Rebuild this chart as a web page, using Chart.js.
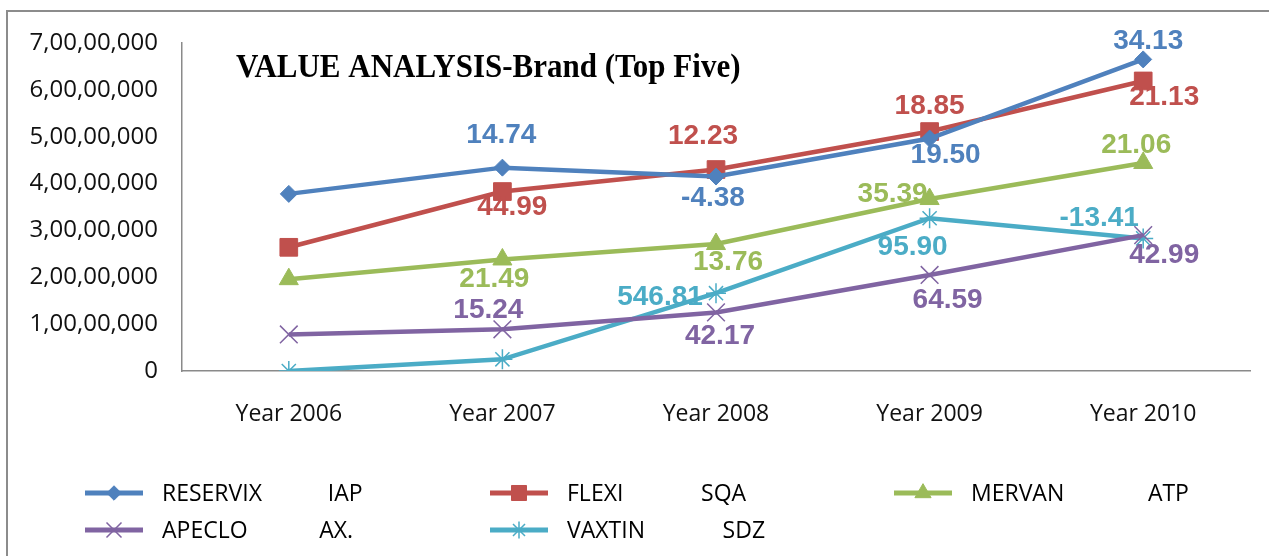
<!DOCTYPE html>
<html>
<head>
<meta charset="utf-8">
<script src="https://cdn.jsdelivr.net/npm/chart.js@4.4.0/dist/chart.umd.min.js"></script>
<style>
  html, body { margin: 0; padding: 0; background: #fff; }
  #wrap { position: relative; width: 1269px; height: 556px; overflow: hidden; }
  #frame { position: absolute; left: 6px; top: 10px; width: 1280px; height: 600px; border: 2px solid #8c8c8c; }
  canvas { position: absolute; left: 0; top: 0; }
</style>
</head>
<body>
<div id="wrap">
  <div id="frame"></div>
  <canvas id="valueChart" width="1269" height="556"></canvas>
</div>
<script>
// categories
const years = ['Year 2006', 'Year 2007', 'Year 2008', 'Year 2009', 'Year 2010'];

// legend labels (brand + company, spaced like the original)
const seriesLabels = [
    'RESERVIX           IAP',
    'FLEXI             SQA',
    'MERVAN              ATP',
    'APECLO            AX.',
    'VAXTIN             SDZ'
];

// sales value per year
const reservix = [37800000, 43400000, 41500000, 49600000, 66500000];
const flexi    = [26400000, 38300000, 43000000, 51100000, 61900000];
const mervan   = [19600000, 23800000, 27100000, 36700000, 44400000];
const apeclo   = [7800000, 8900000, 12500000, 20500000, 29000000];
const vaxtin   = [0, 2500000, 16600000, 32600000, 28300000];

// growth % shown next to the points
const reservixGrowth = [null, 14.74, -4.38, 19.50, 34.13];
const flexiGrowth    = [null, 44.99, 12.23, 18.85, 21.13];
const mervanGrowth   = [null, 21.49, 13.76, 35.39, 21.06];
const apecloGrowth   = [null, 15.24, 42.17, 64.59, 42.99];
const vaxtinGrowth   = [null, null, 546.81, 95.90, -13.41];

// y axis ticks
const yTicks = [0, 10000000, 20000000, 30000000, 40000000, 50000000, 60000000, 70000000];

const chartTitle = 'VALUE ANALYSIS-Brand (Top Five)';

// where each growth label sits relative to its point (px)
const labelOffsets = [
    [null, [-1, -32], [-3, 22], [16, 17], [5, -18]],
    [null, [10, 16], [-13, -33], [0, -25], [21, 16]],
    [null, [-8, 20], [12, 18], [-37, -5], [-7, -18]],
    [null, [-14, -19], [4, 24], [18, 25], [21, 20]],
    [null, null, [-56, 4], [-17, 29], [-44, -20]]
];

const legendCols = [85, 490, 894];
const legendRows = [493, 530];

// Indian grouping: 7,00,00,000
function inr(v) {
    const s = String(Math.round(v));
    if (s.length <= 3) return s;
    const last3 = s.slice(-3);
    const rest = s.slice(0, -3).replace(/\B(?=(\d{2})+(?!\d))/g, ',');
    return rest + ',' + last3;
}

function series(label, data, growth, color, style, radius, bw) {
    return {
        label: label,
        data: data,
        growth: growth,
        borderColor: color,
        backgroundColor: color,
        borderWidth: 4.5,
        tension: 0,
        pointStyle: style,
        pointRadius: radius,
        pointHoverRadius: radius,
        pointBorderWidth: bw,
        pointBackgroundColor: color,
        pointBorderColor: color
    };
}

const growthLabels = {
    id: 'growthLabels',
    afterDatasetsDraw(chart) {
        const ctx = chart.ctx;
        ctx.save();
        ctx.font = 'bold 28px "Liberation Sans", Arial, sans-serif';
        ctx.textAlign = 'center';
        ctx.textBaseline = 'middle';
        chart.data.datasets.forEach((ds, i) => {
            const meta = chart.getDatasetMeta(i);
            ds.growth.forEach((g, j) => {
                if (g === null) return;
                const off = labelOffsets[i][j];
                const pt = meta.data[j];
                ctx.fillStyle = ds.borderColor;
                ctx.fillText(g.toFixed(2), pt.x + off[0], pt.y + off[1]);
            });
        });
        ctx.restore();
    }
};

const titleAndLegend = {
    id: 'titleAndLegend',
    afterDraw(chart) {
        const ctx = chart.ctx;
        // title inside plot area
        ctx.save();
        ctx.fillStyle = '#000';
        ctx.font = 'bold 31px "Liberation Serif", "Times New Roman", serif';
        ctx.textBaseline = 'alphabetic';
        ctx.translate(chart.chartArea.left + 54, 77);
        ctx.scale(1, 1.12);
        ctx.fillText(chartTitle, 0, 0);
        ctx.restore();

        // legend, 3 columns
        chart.data.datasets.forEach((ds, i) => {
            const x = legendCols[i % 3];
            const y = legendRows[Math.floor(i / 3)];
            ctx.save();
            ctx.strokeStyle = ds.borderColor;
            ctx.fillStyle = ds.borderColor;
            ctx.lineWidth = 5;
            ctx.beginPath();
            ctx.moveTo(x, y);
            ctx.lineTo(x + 58, y);
            ctx.stroke();
            ctx.lineWidth = ds.pointBorderWidth;
            Chart.helpers.drawPoint(ctx, {
                pointStyle: ds.pointStyle,
                radius: ds.pointRadius * 0.85,
                borderWidth: ds.pointBorderWidth,
                rotation: 0
            }, x + 29, y);
            ctx.fillStyle = '#000';
            ctx.font = '23px "Open Sans", sans-serif';
            ctx.textBaseline = 'middle';
            ctx.fillText(ds.label, x + 77, y + 1);
            ctx.restore();
        });
    }
};

new Chart(document.getElementById('valueChart').getContext('2d'), {
    type: 'line',
    data: {
        labels: years,
        datasets: [
            series(seriesLabels[0], reservix, reservixGrowth, '#4F81BD', 'rectRot', 8.5, 1),
            series(seriesLabels[1], flexi, flexiGrowth, '#C0504D', 'rect', 12.5, 1),
            series(seriesLabels[2], mervan, mervanGrowth, '#9BBB59', 'triangle', 11, 1),
            series(seriesLabels[3], apeclo, apecloGrowth, '#8064A2', 'crossRot', 12.5, 1.5),
            series(seriesLabels[4], vaxtin, vaxtinGrowth, '#4BACC6', 'star', 10, 1.5)
        ]
    },
    options: {
        responsive: false,
        animation: false,
        layout: { padding: { top: 43, right: 19, left: 0, bottom: 0 } },
        plugins: {
            legend: { display: false },
            title: { display: false },
            tooltip: { enabled: false }
        },
        scales: {
            x: {
                offset: true,
                grid: { display: false, drawTicks: false },
                border: { display: true, color: '#8a8a8a', width: 1.5 },
                ticks: { color: '#111', padding: 30, font: { family: 'Open Sans', size: 23 } },
                afterFit(s) { s.height = 185; }
            },
            y: {
                min: 0,
                max: 70000000,
                afterBuildTicks(s) { s.ticks = yTicks.map(v => ({ value: v })); },
                grid: { display: false, drawTicks: false },
                border: { display: true, color: '#8a8a8a', width: 1.5 },
                ticks: {
                    color: '#111',
                    padding: 24,
                    font: { family: 'Open Sans', size: 24 },
                    callback: v => inr(v)
                },
                afterFit(s) { s.width = 182; }
            }
        }
    },
    plugins: [growthLabels, titleAndLegend]
});
</script>
</body>
</html>
